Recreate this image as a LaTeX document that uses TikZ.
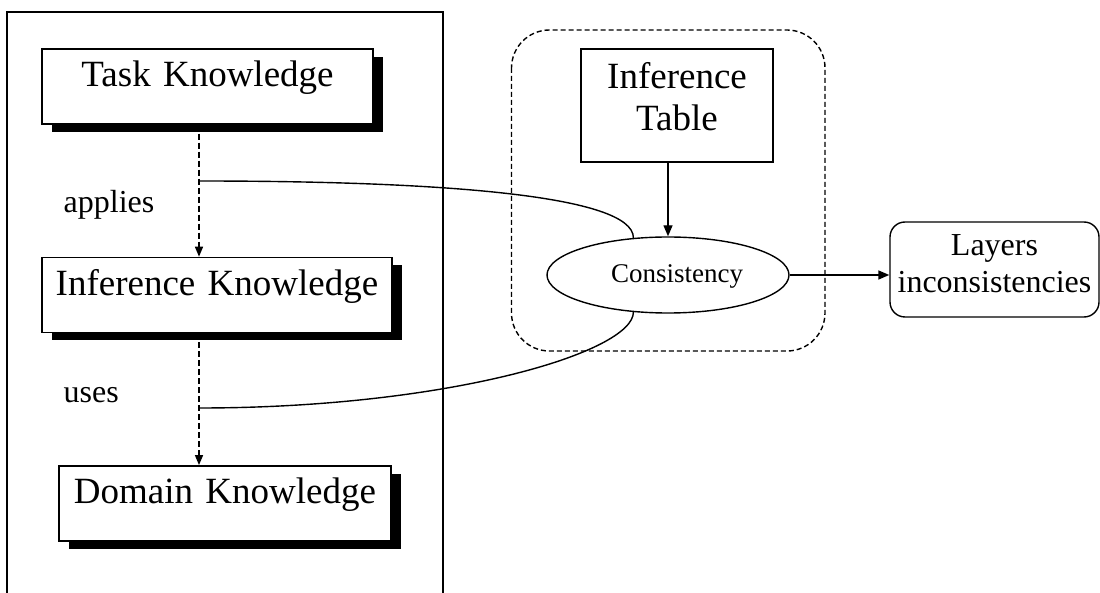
\documentclass[tikz,border=0pt]{standalone}
\usepackage{fontspec}
\setmainfont{Liberation Serif}
\usetikzlibrary{positioning, shapes.geometric, shadows, arrows.meta}

\begin{document}
\begin{tikzpicture}[x=1pt, y=-1pt, line width=1.4pt, node distance={132pt},
  layer/.style = {draw, fill=white, inner sep=0pt, align=center, text height=38pt, text depth=37pt, font=\fontsize{37}{42}\selectfont, drop shadow={shadow xshift=10pt, shadow yshift=-8pt, fill=black, opacity=1}},
  table/.style = {draw, inner sep=0pt, align=center, minimum width=192pt, minimum height=113pt, font=\fontsize{37}{42}\selectfont},
  check/.style = {draw, ellipse, inner sep=0pt, minimum width=242pt, minimum height=76pt, text depth=2pt, font=\fontsize{27}{30}\selectfont},
  result/.style = {draw, rounded corners=15pt, inner sep=0pt, align=center, minimum width=209pt, minimum height=95pt, font=\fontsize{32}{37}\selectfont},
  verb/.style = {anchor=base west, inner sep=0pt, font=\fontsize{32}{37}\selectfont},
  flow/.style = {dash pattern=on 6pt off 3pt, -{Triangle[length=10pt, width=8pt]}},
  tip/.style = {-{Triangle[length=11pt, width=9pt]}}]
\useasboundingbox (0,0) rectangle (1100,593);
\draw (7,593) -- (7,12) -- (443,12) -- (443,593);
\draw[dash pattern=on 5pt off 3pt, rounded corners=38pt] (511.5,30) rectangle (825,351);
\node[layer, text width=331pt] (task) at (207.5,86.5) {Task Knowledge};
\node[layer, text width=350pt] (inf) [below=of task, xshift=9.5pt] {Inference Knowledge};
\node[layer, text width=332pt] (dom) [below=of inf, xshift=8pt] {Domain Knowledge};
\node[verb] (applies) at (63,213) {applies};
\node[verb] (uses) at (63,402) {uses};
\node[table] (tab) at (677,105.5) {Inference\\Table\rule[-18pt]{0pt}{18pt}};
\node[check] (cons) at (668,275) {\hspace*{18pt}Consistency};
\node[result] (lay) at (994.5,269.5) {Layers\\inconsistencies\rule[-11pt]{0pt}{11pt}};
\coordinate (spine) at (199,0);
\coordinate (a) at (199,181);
\coordinate (u) at (199,408);
\draw[flow] (task.south -| spine) -- (inf.north -| spine);
\draw[flow] (inf.south -| spine) -- (dom.north -| spine);
\draw (a) to [out=0, in=90, out looseness=1.4, in looseness=0.25] (cons.133);
\draw (cons.227) to [out=270, in=0, out looseness=0.23, in looseness=1.43] (u);
\draw[tip] (tab.south -| cons.north) -- (cons.north);
\draw[tip] (cons.east) -- (cons.east -| lay.west);
\end{tikzpicture}
\end{document}
